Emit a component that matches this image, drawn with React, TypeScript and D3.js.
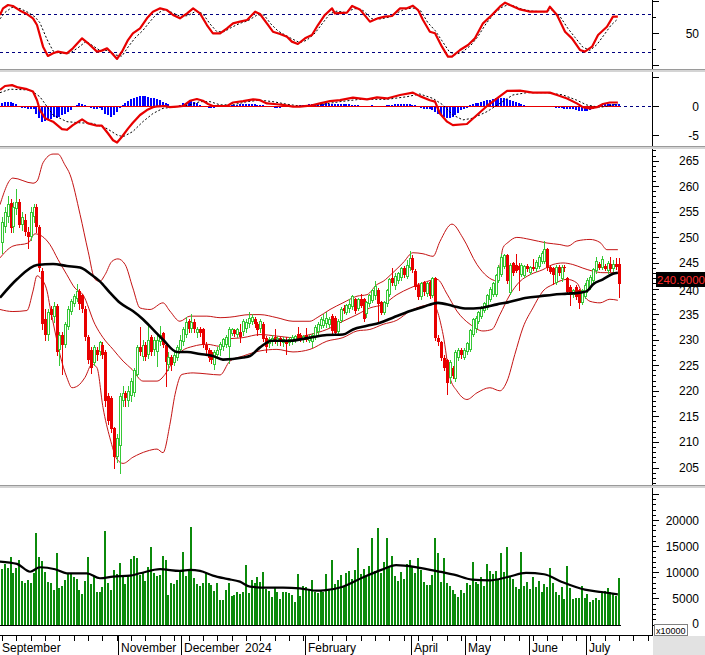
import React from 'react';
import * as d3 from 'd3';

// ---------- categories / time axis ----------
const MONTH_START = [0, 19, 41, 63, 84, 106, 122, 143, 162, 184, 204];
const MONTH_LABEL = ['September', '', 'November', 'December', '2024', 'February', '', 'April', 'May', 'June', 'July'];
const MONTH_SEP = [false, false, true, true, false, true, false, true, true, true, true];

// ---------- price series (OHLC) ----------
const OPEN = [
  249,252,254,256.7,252,255.5,257,252.5,253.5,251,
  250,254,256,252,243.5,234,231,236,234.5,236.5,
  228,231,229,232.5,235.5,237,238,239.5,238.7,236,
  230.5,228,225.5,228,227.5,229,227.5,219,218.5,212.8,
  207,209.3,218,219.5,218,219,219.5,223,228.6,226.6,
  229,227,230.5,228,227.5,229.6,231.3,229,225,226.6,
  225.5,226.5,228,229.5,231,233.7,232,233.5,231.4,232,
  232,229,228,227.6,225,227,227.9,228.6,229,228.6,
  231.2,231.9,231,231.5,231.5,232,233,233.5,234,233,
  232,233,230.4,229.2,229.5,230.5,229.5,230.3,229.4,230,
  229.3,229.6,230,231.2,231,229.9,231,229.8,229.5,230.5,
  231.5,232.6,232.6,233,232.8,234.6,234.3,231.5,233.7,236.2,
  235.3,236,236.3,237.9,236,237.9,237.9,235,236.9,237.6,
  238.5,239.8,237.3,235.3,236.9,238.8,242,240.5,241.4,242,
  244,242.2,244,246,243.5,240.7,238.4,241.3,239,241.3,
  238.5,242.1,230.4,229.5,226.5,226,222.5,224.4,222.4,226.5,
  228,226.5,227.5,228,231,232,233.5,234.5,235.6,236.2,
  237.8,238.8,238.8,241.4,242.6,244.3,246.5,239.2,244.9,244.7,
  244.5,242.6,242.4,244.4,243,244.3,243.8,244.3,245.2,245.2,
  247.8,244.3,244,241.1,244.3,241.8,244.3,242,240.3,238.7,
  240.3,239.7,237.2,238.4,239.7,240.3,241.5,243.4,244.8,244.1,
  244.5,243.4,244.8,243.8,244.8,244.8,
];
const HIGH = [
  254,256,258,257.5,257,259.5,257.5,255,254.5,252,
  256,256.5,256.5,252.5,244,236,236,236.5,237.3,237,
  231.5,231.5,233.5,236.5,238,239,240.8,240,239,236.5,
  231,228.5,229,228.5,229.8,229.5,228,219.5,219,213,
  211.5,219.5,221,220,221,222.5,224.5,229,232.4,230,
  229.5,233,231,230.5,231,232.6,231.5,229.5,227.5,227,
  227.5,229,231,232.5,234.5,234,235,234,232.5,232.5,
  232.3,229.5,228.3,228,228,228.5,229.5,230.4,231,232.5,
  232.3,232,232.3,233,234,234,235.4,235,234.5,233.5,
  234,233.5,230.8,230.5,231,232,230.8,230.5,230.5,230.5,
  230.5,231,231,232.4,231.3,231,232.2,231,231.4,232.8,
  233.5,234.5,235,235.4,234.5,235,234.6,234,236.3,236.8,
  237,238,238.8,238.2,238.2,239,238.2,237.6,239,240,
  241.4,240.2,237.6,237.6,240,242,244,243,243.3,244.3,
  244.5,245.6,247.3,246.5,243.8,241,241.3,241.5,241.3,241.5,
  242.3,242.3,231,229.8,227,226.3,226,224.8,228,228.3,
  228.3,228.3,229.6,232,234.3,234.6,235.7,236.5,237.4,239,
  240.3,241.3,242.9,244.6,246.8,246.8,246.8,245,245.2,246.8,
  245,245,244.7,244.8,244.5,245.8,245.5,246.5,247.3,249.3,
  248,244.6,244.3,244.6,244.6,244.6,244.6,242.3,240.6,240,
  240.6,240,240,241,242,242.6,244.1,246.1,245.1,246.3,
  244.8,245.3,246.1,245.5,246,246,
];
const LOW = [
  247,251,253,251,251,254.5,252,251.5,250.5,248,
  249.5,253,251,243.5,232,230,230,234,233.5,227,
  225,223.2,228.5,232,235,236.5,237.5,236,235.5,230,
  225.5,223.5,225,226,227,226.5,217,213.5,212,205,
  206,204,217,217,217,218,219,222.8,227,226,
  226,226.5,227,227,224.8,229,228.5,221,224,224,
  225,226,227.5,229,230.5,231.5,231.5,231.5,230.5,230.8,
  228.6,227,225.8,225.5,224.3,226.5,227,228,228.5,225.4,
  231,230.8,230.5,229.5,231,231.5,232.5,233,232.5,231,
  231.5,229.8,227.6,228.5,229,229.3,229,229,228.8,227.2,
  229,229.2,229.5,230,229.8,229.5,229.8,229.6,228.6,230.2,
  231,232.3,232.4,232.5,232.5,231.4,231,231.2,233.5,235.2,
  235,235.5,236,235.2,235.8,236.3,233.7,234.5,236.5,237.3,
  238,233.4,235,235,236.5,238.5,240.6,240,241,241.6,
  242.3,242,243.7,243.3,240,238,238,238.8,238.5,238.2,
  238.3,230,229,226,224,219.4,221.5,222.5,222,226,
  226.5,226.2,227.2,227.8,230.8,231.5,233.2,234.2,235.4,236,
  237.5,238.5,238.5,241.2,242.4,244,241,239,242.7,243.2,
  239.8,242.4,242.2,243.5,242.8,243.6,243.5,244,245,245,
  243.7,243,240.8,240.8,242.7,241.5,243.5,239,236.8,238.4,
  238,236.2,237,238.1,239.4,240,241.2,243.1,243.8,243.8,
  243.6,243.1,243.5,243.5,243.8,238.4,
];
const CLOSE = [
  253,255,256.5,251.8,256,257,252.5,254,251,250,
  255,256,252,244,233,231,235.5,234.8,236.5,227.5,
  231,229,233,236,237.5,238.5,239.5,237,236,230.5,
  226,224.5,228.5,227,229.5,227,218,214,212.5,207,
  210.8,219,219.5,218.5,220,222,224,228.6,227.6,229,
  226.6,230,227.5,230,230,231,229,225.7,226.6,225,
  227,228.5,230,232,233.5,232,233.4,232.1,232,231.4,
  229,228,226.5,226,227.6,228,229.2,230.2,230.5,232.1,
  232,231.2,232,230.5,233.7,233.5,234.3,234.5,233,231.8,
  233.7,230.2,228.6,230.2,230.3,229.8,230.3,229.6,230.2,229.2,
  230.2,230.5,230.7,230.2,230.3,230.8,230,230.5,231,232.4,
  233,234,233.8,234.3,234,231.7,231.4,233.7,236,235.6,
  236.8,237,238.5,235.6,237.9,236.6,234,237.3,238.8,239.8,
  240.5,236.9,235.3,237.3,239.7,241.8,241,242.5,243,244,
  242.7,244.6,246,243.7,240.3,238.4,241,239.4,241,238.5,
  242,230.4,229.5,226.4,224.5,221.5,225.6,222.8,227.5,228,
  227,228,229.3,231.8,234,234.3,235.4,236.2,237.1,238.7,
  240,241,242.6,244.3,246.2,246.5,241.4,244.7,243,243.4,
  243.6,244.7,244.4,243.8,244.2,243.9,245.2,246.2,247,247.8,
  244,243.3,242.6,244.3,243,244.3,244,239.4,238.7,239.7,
  238.4,237.1,239.7,240.7,241.7,242.3,243.8,245.4,244.1,245.8,
  243.9,245,243.8,244.8,244.2,240.9,
];

// ---------- volume ----------
const VOLUME = [
  10600,11500,10800,13000,9800,10800,12400,8300,8000,8600,
  7900,9800,17500,13000,12200,10000,8200,7900,6600,13650,
  7050,7400,8500,9600,9800,9000,8700,6600,5800,8400,
  12900,7700,9000,6300,6150,7250,17800,8000,6600,10400,
  9600,11700,9200,7700,9200,12600,13150,12700,9400,10100,
  8300,11000,14750,9800,9300,9400,13150,12400,5640,7900,
  7700,8600,10250,13850,9200,10400,18650,8850,7700,7450,
  7900,10000,7900,7600,6400,7900,4700,4700,6600,7900,
  5450,5650,6300,5750,6300,11300,5950,8500,7900,9000,
  8200,10000,6800,6400,5300,6900,6300,4900,6150,6300,
  5950,5650,4350,9600,5450,7450,7250,6600,8500,6150,
  5950,6600,6300,9600,6600,
  12300,7800,8600,9400,7200,9800,10200,8800,10500,14550,
  9600,10600,9000,11200,16470,10300,18400,9800,12000,16470,
  11200,13080,9200,8400,10000,8800,11600,12300,11000,9800,
  12800,10400,8200,7600,7600,9400,16470,13700,8100,12800,
  8000,7300,6600,5900,5200,6600,6000,8000,7600,12000,
  8200,7800,9000,7400,11500,10200,9700,10300,8500,13700,
  10000,14870,9200,8800,7200,6700,13900,7400,8200,6800,
  9000,7200,8400,6200,7800,7100,10800,8000,6300,5600,
  7200,4800,11150,6900,4900,5000,5000,7400,5000,5800,
  4300,4600,5100,4600,6000,6400,6900,6200,5800,5400,8900,
];

// ---------- indicator lines: [bar index, value] ----------
const BB_UPPER: [number, number][] = [[-0.7,256.4],[3.8,261.6],[10.8,260.6],[12.2,261],[14.3,264.6],[17.8,266.3],[19.5,266.3],[21.9,264.2],[23.7,262.3],[27.2,254.5],[30,247.3],[32.4,241.8],[34.1,241.4],[35.9,242.7],[38.3,245.3],[40.4,245.8],[42.9,244.7],[45.6,240.1],[48.1,236.2],[51.6,235.9],[56.1,237.2],[58.5,235.6],[62,233.6],[65.5,234.6],[71.4,234.6],[76,234.3],[79.4,234.4],[86.4,234.9],[89.9,234.9],[95.8,234.3],[101.4,233.6],[107.3,233.6],[109.8,234.3],[114.3,235.9],[118.8,237.2],[123.7,238.5],[127.2,238.8],[130.7,240.8],[132.8,241.4],[136.2,243.1],[139.7,245],[143.2,247],[146.7,246.8],[150.2,246.3],[152.6,249.2],[156.8,252.6],[160.6,249.9],[165.5,244.7],[169,242.4],[172.5,241.5],[174.6,248],[176.3,249],[179.4,250],[184,249.6],[189.9,248.9],[194.4,248.6],[197.2,248.3],[200.3,249.3],[204.9,249.6],[208.4,249],[210.8,247.6],[214.6,247.6]];
const BB_MID: [number, number][] = [[-0.7,246],[3.8,248.3],[9.1,248.9],[11.5,250.7],[16.7,248.6],[19.5,245.7],[22.6,242.7],[25.4,240.1],[28.2,238.8],[32.4,233],[35.2,230.4],[38.7,228.1],[42.2,225.8],[45.3,224.2],[49.1,221.9],[54,221.9],[56.8,223.2],[59.6,225.8],[62.7,227.8],[66.6,228.7],[71.4,229.1],[76,228.7],[78.4,230.1],[84,230.4],[89.9,231],[95.8,230.7],[101.4,230.4],[107.3,231],[113.2,232],[118.8,233.6],[123.7,234.9],[128.2,236.2],[132.8,236.9],[137.6,238.8],[142.2,240.1],[146.7,241.1],[151.6,241.8],[155.1,238.9],[158.5,235.6],[163.1,233],[167.6,231.7],[170.7,232],[173.5,234.9],[177,238.8],[180.5,241.4],[184,242.7],[188.5,243.7],[192,244.7],[195.5,245],[198.9,244.7],[202.4,244],[205.9,243.4],[209.4,243.1],[214.6,243.1]];
const BB_LOWER: [number, number][] = [[-0.7,235.9],[3.8,235.5],[8.7,235.7],[10.8,239.5],[12.2,242.5],[13.5,242],[15.7,239.5],[16.7,236.5],[18.5,231.5],[20.2,227.1],[22.6,222.6],[24.4,220.6],[26.5,221],[28.9,222.6],[31.4,225.2],[33.1,224.5],[35.2,216.7],[37.6,210.8],[40.1,206.6],[42.2,205.8],[45.6,207],[50.5,208.2],[54,208.6],[56.1,207.9],[58.5,213.4],[60.3,219.3],[62.7,223.2],[66.6,223.5],[71.4,223.3],[76,223.1],[79.4,225.8],[84,226.8],[89.9,227.8],[95.8,228.1],[101.4,227.6],[107.3,228.1],[113.2,229.7],[118.8,230.4],[123.7,231.7],[128.2,232],[132.8,233],[137.6,233.8],[142.2,235.6],[146.7,236.6],[150.2,236.9],[153.7,231],[156.1,222.6],[158.5,220],[162,218.3],[165.5,219.6],[170,220.6],[173.5,220],[176,221.9],[178.7,227.1],[181.5,232.3],[185,236.2],[188.5,239.5],[192,240.8],[196.9,241.8],[200.3,241.1],[202.4,238.9],[204.9,237.5],[208.4,237.2],[211.8,237.9],[214.6,237.7]];
const MA_LONG: [number, number][] = [[-0.7,238.2],[5.2,241.8],[12.2,244.6],[17.8,244.8],[22.6,244.4],[27.2,244.1],[30.7,242.9],[34.1,241.4],[37.6,239.2],[41.1,237.2],[45.6,235.6],[49.1,234],[52.6,232],[56.1,230],[61,227.6],[64.5,227.6],[69,227.2],[73.5,226.8],[77,226.1],[84,226.5],[86.4,226.8],[89.9,228.5],[94.1,229.8],[100.3,229.8],[107.3,230.4],[113.2,230.9],[118.8,231],[122.3,232],[127.2,232.7],[131.7,233.3],[136.2,234.3],[142.2,235.6],[146.7,236.4],[151.9,237.2],[157.1,236.6],[162,236.1],[166.6,236.2],[172.5,236.9],[177,237.4],[182.9,238.2],[187.5,238.5],[192,238.8],[196.9,239],[201.4,239.2],[203.8,239.5],[205.9,240.8],[209.4,241.8],[212.9,242.9],[214.6,243.1]];
const VOL_MA: [number, number][] = [[-0.7,12050],[5.2,11600],[9.8,10100],[13.2,10960],[18.5,10580],[22.6,9800],[29.6,9800],[34.1,8850],[38.7,9170],[44.6,9360],[48.1,9800],[55.1,10580],[62,10260],[65.5,10450],[69,10260],[73.5,9360],[78.4,8720],[82.9,8200],[86.4,7240],[92.3,7050],[97.9,7050],[103.8,6920],[109.8,6470],[112.2,6540],[118.5,7180],[126.1,9100],[132.4,10500],[137.3,11350],[145,10900],[153,10060],[157.5,9550],[163.8,8590],[170,8460],[176.3,9100],[182.6,9870],[188.9,9615],[195.1,8140],[203.1,6670],[209,6220],[214.6,5770]];
const STOCH_K: [number, number][] = [[-0.7,78],[0.35,88.3],[2.1,93.5],[3.8,92],[6.3,84.7],[8.7,79.5],[10.8,72.8],[12.2,62.4],[14.3,28.8],[16,14.3],[17.8,18.4],[19.5,21],[22.6,18.4],[24.7,26.2],[27.9,41.7],[30,34],[33.1,21],[34.8,22.6],[36.6,26.2],[38.3,18.4],[40.1,9.7],[41.8,21],[43.9,39],[45.6,49.5],[48.1,57.2],[50.5,72.8],[52.6,83.1],[55.1,88.3],[57.5,85.7],[59.6,78],[62,72.8],[64.5,80.5],[66.6,88.3],[69,80.5],[71.4,62.4],[73.5,49.5],[76,49.5],[78.4,57.2],[80.5,65],[82.9,67.6],[85.4,70.2],[88.2,83.1],[89.9,79.5],[92.3,65],[94.4,52],[96.9,48.5],[99.3,44.3],[101,36.6],[103.1,32.9],[105.6,41.7],[108,46.9],[110.1,62.4],[112.5,78],[115,88.3],[116,80.5],[120.2,81.6],[122,92],[124.7,86.7],[128.2,67.6],[131,72.8],[133.4,75.4],[135.9,76.4],[138.7,88.3],[141.1,88.3],[143.2,92.4],[145,85.7],[146.7,70.2],[149.1,52],[150.9,49.5],[153.3,28.8],[155.4,13.3],[156.8,13.3],[159.6,23.6],[162.4,31.4],[164.8,41.7],[167.6,65],[170.7,78],[173.5,90.9],[175.3,97.1],[177,93.5],[180.5,86.7],[184,83.1],[187.5,83.1],[189.9,83.1],[190.9,90.9],[193.4,78],[196.2,52],[198.6,41.7],[201.4,23.6],[203.1,21],[205.6,28.8],[207.7,46.9],[210.8,59.8],[212.9,75.4],[214.6,75.4]];
const STOCH_D: [number, number][] = [[-0.7,72],[1.05,82],[3.5,90],[6.3,88],[9.1,82],[11.5,75],[13.2,66],[15.7,40],[17.8,22],[20.2,18],[23.7,19],[26.5,27],[29.3,37],[31.7,30],[34.1,23],[36.9,23],[39.4,16],[41.8,14],[43.9,28],[46.3,42],[49.1,54],[51.6,68],[54,80],[56.4,86],[59.2,82],[62,76],[64.8,77],[67.6,84],[70,80],[72.5,64],[74.9,52],[77.4,52],[80.1,59],[82.9,65],[85.7,69],[88.9,78],[91.3,78],[93.7,64],[96.2,53],[98.6,47],[101,41],[103.8,35],[106.3,39],[109.1,50],[111.5,64],[114.3,80],[116.7,84],[119.5,82],[123,88],[125.8,85],[128.9,72],[132.1,72],[135.2,75],[138,82],[140.4,87],[143.2,89],[146,84],[148.4,66],[150.9,54],[153.3,38],[155.7,22],[157.8,16],[160.6,21],[163.4,31],[165.9,45],[168.6,64],[171.4,80],[174.2,90],[176.3,94],[178.4,92],[181.2,87],[184.7,84],[188.9,83],[191.6,86],[194.4,76],[197.2,57],[199.7,43],[202.4,28],[204.9,23],[207.3,32],[209.8,47],[212.2,62],[214.6,72]];
const MACD: [number, number][] = [[-0.7,2.76],[1.05,3.45],[3.5,3.6],[5.6,3.2],[8.7,2.9],[10.8,2.5],[12.2,1.0],[13.2,-0.7],[15,-2.1],[17.8,-2.7],[20.9,-4.0],[22.6,-4.1],[24.7,-3.3],[27.9,-2.3],[30,-3.0],[33.1,-3.4],[34.8,-3.4],[36.9,-4.7],[38.7,-5.9],[40.1,-6.3],[41.8,-5.3],[43.9,-3.9],[45.6,-2.9],[48.1,-1.55],[50.5,-0.7],[52.6,-0.2],[54.4,-0.05],[56.8,0],[58.5,-0.2],[61,-0.1],[63.1,0],[65.5,0.9],[67.9,1.2],[70,0.9],[71.8,0.35],[73.5,0],[76,0],[78.4,0],[80.5,0.6],[84,0.85],[87.5,1.15],[89.9,1.0],[92.3,0.45],[95.8,0.3],[97.9,0.2],[101.4,-0.1],[103.8,-0.1],[107.3,0.05],[110.8,0.45],[114.3,0.85],[117.8,1.0],[122.3,1.45],[127.2,1.15],[130.7,1.5],[134.1,1.3],[138.7,1.9],[143.2,2.3],[145.6,1.7],[149.1,1.0],[150.9,0.75],[152.6,-1.3],[155.1,-2.7],[157.1,-3.3],[162,-3.1],[165.5,-1.55],[169,0],[172.5,1.3],[176,2.6],[180.5,2.65],[185,2.3],[190.9,2.3],[193.4,1.9],[196.9,1.3],[200.3,0.45],[202.4,-0.2],[204.9,-0.4],[207.3,-0.2],[209.4,0.35],[211.8,0.6],[214.6,0.6]];
const SIGNAL: [number, number][] = [[-0.7,2.3],[2.8,2.9],[9.8,2.76],[13.2,1.6],[15.7,-0.1],[17.8,-1.55],[22.6,-2.7],[27.2,-2.9],[31.7,-3.0],[36.6,-3.9],[40.1,-5.0],[42.2,-5.3],[45.6,-4.4],[49.1,-2.7],[52.6,-1.3],[56.1,-0.4],[61,-0.1],[65.5,0.2],[69,0.75],[72.5,0.75],[76,0.2],[80.5,0.2],[85.4,0.75],[89.9,1.0],[94.4,0.75],[99.3,0.3],[103.8,0],[110.8,0.2],[117.8,0.75],[124.7,1.15],[134.1,1.15],[141.1,1.6],[145.6,2.07],[150.2,1.3],[153.7,0.17],[157.1,-1.55],[160.6,-2.4],[164.1,-2.1],[169,-0.97],[173.5,0.46],[178,1.9],[182.9,2.3],[189.9,2.3],[195.5,1.9],[200.3,1.0],[203.8,0.17],[208.4,-0.23],[212.9,0.17],[214.6,0.35]];
const MACD_HIST = [
  0.55,0.75,0.75,0.65,0.5,0.35,
  -0.2,-0.3,-0.4,-0.5,-0.5,-0.6,
  -1.3,-2.1,-2.7,-2.6,-2.4,-2.2,-1.9,-2.1,-1.9,-1.55,-1.3,-1.0,-0.7,
  -0.2,0.1,0.45,0.35,0.1,
  -0.2,-0.35,-0.5,-0.45,-0.4,
  -0.7,-1.3,-1.55,-1.85,-1.5,-1.0,-0.3,
  0.2,0.5,0.9,1.2,1.45,1.6,1.7,1.7,1.7,1.6,1.45,1.3,1.2,1.0,0.75,0.5,0.3,
  -0.1,-0.2,0.05,0.1,
  0.45,0.6,0.75,0.85,0.75,0.6,
  0.2,-0.05,-0.2,-0.35,-0.4,-0.4,
  -0.2,-0.1,0.05,-0.05,0.05,0.1,
  0.2,0.25,0.3,0.35,0.35,0.35,0.3,0.3,0.25,0.2,0.1,
  -0.1,-0.2,-0.25,-0.3,-0.3,-0.3,-0.25,-0.2,-0.15,-0.1,-0.05,0.05,
  0.15,0.2,0.25,0.3,0.3,0.3,0.3,
  0.35,0.4,0.45,0.4,0.35,0.3,0.3,0.35,0.4,0.35,0.3,0.2,0.15,0.1,0.05,
  0,-0.05,0.05,0.1,0.05,-0.05,0,0.05,0.1,0.15,
  0.2,0.3,0.35,0.35,0.35,0.3,0.3,0.25,0.1,
  -0.2,-0.4,-0.5,-0.55,-0.6,-0.7,-1.0,
  -1.3,-1.55,-1.85,-2.1,-2.1,-1.85,-1.5,-1.15,-0.75,-0.5,-0.3,
  0.1,0.3,0.45,0.6,0.75,0.85,0.95,1.05,1.15,1.3,1.45,1.4,1.3,1.15,1.0,0.85,0.75,0.45,0.3,0.1,
  0.05,0,-0.05,0,0.05,0.05,0,0,-0.05,
  -0.2,-0.3,-0.35,-0.4,-0.45,-0.5,-0.55,-0.6,-0.7,-0.8,-0.86,-0.9,-0.86,-0.7,-0.55,-0.25,
  0.1,0.25,0.3,0.35,0.4,0.4,0.35,0.35,
];

// ---------- axis labels ----------
const PRICE_LABELS = [205, 210, 215, 220, 225, 230, 235, 240, 245, 250, 255, 260, 265];
const VOL_LABELS = [0, 5000, 10000, 15000, 20000];
const STOCH_LABELS = [50];
const STOCH_GUIDES = [20, 80];
const MACD_LABELS = [0, -5];
const LAST_PRICE = '240.9000';
const VOL_UNIT = 'x10000';

const GREEN = '#36c836';
const RED = '#e80000';
const BAND = '#c41414';
const VOLG = '#0b8a0b';
const NAVY = '#000080';
const FONT = "'Liberation Sans', Arial, Helvetica, sans-serif";
const AX = 652;

export default function App() {
  const N = CLOSE.length;
  const x = d3.scaleLinear().domain([0, N - 1]).range([2, 619]);
  const yP = d3.scaleLinear().domain([205, 265]).range([467.5, 160.7]);
  const yV = d3.scaleLinear().domain([0, 20000]).range([624.5, 520]);
  const yS = d3.scaleLinear().domain([20, 80]).range([52.3, 13.7]);
  const yM = d3.scaleLinear().domain([-5, 0]).range([135, 106]);
  const mk = (ys: d3.ScaleLinear<number, number>, curve: d3.CurveFactory = d3.curveMonotoneX) =>
    d3.line<[number, number]>().x(d => x(d[0])).y(d => ys(d[1])).curve(curve);

  const lineP = mk(yP);
  const lineV = mk(yV);
  const lineS = mk(yS, d3.curveLinear);
  const lineM = mk(yM, d3.curveLinear);

  const px = (i: number) => Math.round(x(i));

  const priceMinor = d3.range(202, 268, 1);
  const volMinor = d3.range(0, 26000, 1000);
  const weekTicks = d3.range(0, 228, 5).filter(i => x(i) < AX - 2);

  const sep = (y: number) => (
    <g>
      <rect x={0} y={y} width={705} height={1} fill="#9a9a9a" />
      <rect x={0} y={y + 1} width={705} height={2} fill="#d4d4d4" />
    </g>
  );

  return (
    <svg width={705} height={655} style={{ position: 'absolute', left: 0, top: 0 }} fontFamily={FONT}>
      <defs>
        <clipPath id="cS"><rect x={0} y={0} width={AX} height={69} /></clipPath>
        <clipPath id="cM"><rect x={0} y={72} width={AX} height={74} /></clipPath>
        <clipPath id="cP"><rect x={0} y={149} width={AX} height={336} /></clipPath>
        <clipPath id="cV"><rect x={0} y={488} width={AX} height={147} /></clipPath>
      </defs>
      <rect x={0} y={0} width={705} height={655} fill="#ffffff" />

      {/* ---------- Stochastic ---------- */}
      <g clipPath="url(#cS)">
        {STOCH_GUIDES.map(v => (
          <line key={v} x1={0} x2={AX} y1={Math.round(yS(v)) + 0.5} y2={Math.round(yS(v)) + 0.5}
            stroke={NAVY} strokeDasharray="3,3" />
        ))}
        <path d={lineS(STOCH_D) || ''} fill="none" stroke="#000" strokeWidth={1} strokeDasharray="2,2" />
        <path d={lineS(STOCH_K) || ''} fill="none" stroke={RED} strokeWidth={2.2} strokeLinejoin="round" />
      </g>

      {/* ---------- MACD ---------- */}
      <g clipPath="url(#cM)">
        <line x1={0} x2={AX} y1={Math.round(yM(0)) + 0.5} y2={Math.round(yM(0)) + 0.5} stroke={NAVY} strokeDasharray="3,3" />
        <g shapeRendering="crispEdges">
          {MACD_HIST.map((h, i) => {
            const y0 = yM(0), y1 = yM(h);
            return <rect key={i} x={px(i) - 1} y={Math.min(y0, y1)} width={2} height={Math.abs(y1 - y0)} fill="#0000ff" />;
          })}
        </g>
        <line x1={0} x2={px(N - 1) + 1} y1={Math.round(yM(0)) + 0.5} y2={Math.round(yM(0)) + 0.5} stroke={RED} strokeWidth={1} />
        <path d={lineM(SIGNAL) || ''} fill="none" stroke="#000" strokeWidth={1} strokeDasharray="2,2" />
        <path d={lineM(MACD) || ''} fill="none" stroke={RED} strokeWidth={2.2} strokeLinejoin="round" />
      </g>

      {/* ---------- Price ---------- */}
      <g clipPath="url(#cP)">
        <path d={lineP(BB_UPPER) || ''} fill="none" stroke={BAND} strokeWidth={1} />
        <path d={lineP(BB_LOWER) || ''} fill="none" stroke={BAND} strokeWidth={1} />
        <path d={lineP(BB_MID) || ''} fill="none" stroke={BAND} strokeWidth={1} />
        <g shapeRendering="crispEdges">
          {CLOSE.map((c, i) => {
            const o = OPEN[i], h = HIGH[i], l = LOW[i];
            const cx = px(i);
            const up = c >= o;
            const col = up ? GREEN : RED;
            const yTop = Math.round(yP(Math.max(o, c)));
            const yBot = Math.round(yP(Math.min(o, c)));
            const bh = Math.max(1, yBot - yTop);
            return (
              <g key={i}>
                <line x1={cx + 0.5} x2={cx + 0.5} y1={Math.round(yP(h))} y2={Math.round(yP(l)) + 1} stroke={col} />
                {up
                  ? <rect x={cx - 0.5} y={yTop + 0.5} width={2} height={Math.max(0, bh - 1)} fill="#fff" stroke={col} />
                  : <rect x={cx - 1} y={yTop} width={3} height={bh} fill={col} />}
              </g>
            );
          })}
        </g>
        <path d={lineP(MA_LONG) || ''} fill="none" stroke="#000" strokeWidth={2.6} />
      </g>

      {/* ---------- Volume ---------- */}
      <g clipPath="url(#cV)">
        <g shapeRendering="crispEdges">
          {VOLUME.map((v, i) => (
            <rect key={i} x={px(i) - 1} y={yV(v)} width={2} height={yV(0) - yV(v)} fill={VOLG} />
          ))}
        </g>
        <line x1={0} x2={px(N - 1) + 2} y1={Math.round(yV(0)) + 0.5} y2={Math.round(yV(0)) + 0.5} stroke="#000" />
        <path d={lineV(VOL_MA) || ''} fill="none" stroke="#000" strokeWidth={2.2} />
      </g>

      {/* ---------- separators ---------- */}
      {sep(69)}
      {sep(146)}
      {sep(485)}

      {/* ---------- right axes ---------- */}
      <g stroke="#000" shapeRendering="crispEdges">
        <line x1={AX + 0.5} x2={AX + 0.5} y1={0} y2={69} />
        <line x1={AX + 0.5} x2={AX + 0.5} y1={72} y2={146} />
        <line x1={AX + 0.5} x2={AX + 0.5} y1={149} y2={485} />
        <line x1={AX + 0.5} x2={AX + 0.5} y1={488} y2={636} />
        {[0, 25, 50, 75, 100].map(v => (
          <line key={'s' + v} x1={AX} x2={AX + (v % 50 === 0 ? 7 : 4)} y1={Math.round(yS(v)) + 0.5} y2={Math.round(yS(v)) + 0.5} />
        ))}
        {[5, 0, -5].map(v => (
          <line key={'m' + v} x1={AX} x2={AX + 7} y1={Math.round(yM(v)) + 0.5} y2={Math.round(yM(v)) + 0.5} />
        ))}
        {priceMinor.map(v => (
          <line key={'p' + v} x1={AX} x2={AX + (v % 5 === 0 ? 7 : 4)} y1={Math.round(yP(v)) + 0.5} y2={Math.round(yP(v)) + 0.5} />
        ))}
        {volMinor.map(v => (
          <line key={'v' + v} x1={AX} x2={AX + (v % 5000 === 0 ? 7 : 4)} y1={Math.round(yV(v)) + 0.5} y2={Math.round(yV(v)) + 0.5} />
        ))}
      </g>
      <g fontSize={12} fill="#000" textAnchor="end">
        {STOCH_LABELS.map(v => <text key={'sl' + v} x={699} y={yS(v) + 5}>{v}</text>)}
        {MACD_LABELS.map(v => <text key={'ml' + v} x={699} y={yM(v) + 5}>{v}</text>)}
        {PRICE_LABELS.map(v => <text key={'pl' + v} x={699} y={yP(v) + 4.5 + (v === 240 ? 2 : 0)}>{v}</text>)}
        {VOL_LABELS.map(v => <text key={'vl' + v} x={699} y={yV(v) + (v === 0 ? 3 : 4.5)}>{v}</text>)}
      </g>

      {/* last price badge */}
      <rect x={656} y={272} width={49} height={15} fill="#000" />
      <text x={657} y={284} fontSize={11.5} fill="#ff2a2a">{LAST_PRICE}</text>

      {/* volume unit box */}
      <rect x={654.5} y={624.5} width={33} height={11} fill="#fff" stroke="#808080" />
      <text x={656} y={633.5} fontSize={9} fill="#000">{VOL_UNIT}</text>

      {/* ---------- time axis ---------- */}
      <rect x={AX + 1} y={636} width={705 - AX - 1} height={19} fill="#e2e2e2" />
      <line x1={0} x2={AX + 1} y1={635.5} y2={635.5} stroke="#000" />
      <g stroke="#000" shapeRendering="crispEdges">
        {weekTicks.map(i => (
          <line key={'w' + i} x1={px(i) + 0.5} x2={px(i) + 0.5} y1={636} y2={641} />
        ))}
        {MONTH_START.map((s, k) => MONTH_SEP[k] ? (
          <line key={'ms' + k} x1={Math.round(x(s) - 1.43) + 0.5} x2={Math.round(x(s) - 1.43) + 0.5} y1={636} y2={655} />
        ) : null)}
      </g>
      <g fontSize={12} fill="#000">
        {MONTH_START.map((s, k) => MONTH_LABEL[k] ? (
          <text key={'ml' + k} x={k === 0 ? 2 : Math.round(x(s) - 1.43) + 3} y={652}>{MONTH_LABEL[k]}</text>
        ) : null)}
      </g>
    </svg>
  );
}
